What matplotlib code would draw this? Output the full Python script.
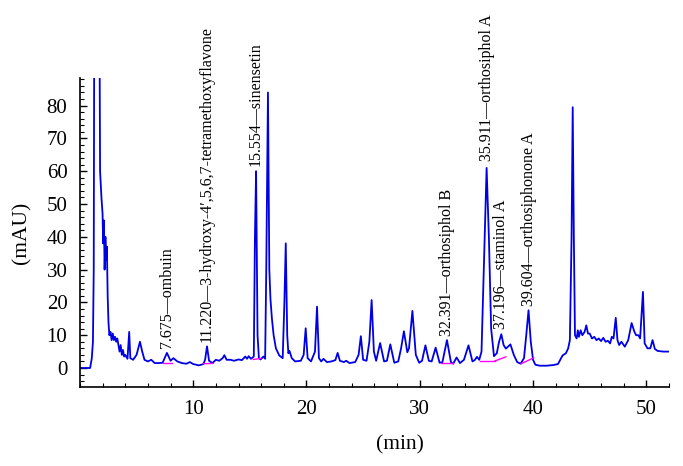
import matplotlib
matplotlib.use("Agg")
import matplotlib.pyplot as plt
from matplotlib.ticker import MultipleLocator

# ---- chromatogram trace: time (min), signal (mAU) ----
time_min = [
    0.0, 0.9, 1.05, 1.15, 1.22, 1.28, 1.70, 1.78, 1.9, 2.0, 2.05, 2.12, 2.18, 2.25,
    2.32, 2.38, 2.45, 2.52, 2.6, 2.7, 2.8, 2.9, 3.0, 3.1, 3.2, 3.3, 3.4, 3.5, 3.6,
    3.7, 3.8, 3.9, 4.0, 4.2, 4.35, 4.45, 4.7, 5.0, 5.3, 5.5, 5.7, 6.0, 6.3, 6.6,
    7.0, 7.3, 7.68, 8.0, 8.25, 8.6, 9.0, 9.4, 9.7, 10.0, 10.5, 10.9, 11.05, 11.22,
    11.4, 11.7, 12.0, 12.3, 12.6, 12.75, 12.95, 13.3, 13.6, 14.0, 14.3, 14.6,
    14.75, 14.9, 15.1, 15.35, 15.45, 15.55, 15.68, 15.8, 15.95, 16.2, 16.35, 16.45,
    16.6, 16.72, 16.82, 16.95, 17.1, 17.3, 17.6, 17.9, 18.05, 18.17, 18.3, 18.4,
    18.5, 18.7, 19.0, 19.5, 19.75, 19.93, 20.1, 20.4, 20.75, 20.93, 21.1, 21.3,
    21.5, 21.8, 22.2, 22.55, 22.75, 22.95, 23.3, 23.5, 23.8, 24.3, 24.6, 24.8,
    25.0, 25.3, 25.55, 25.75, 25.95, 26.15, 26.5, 26.85, 27.1, 27.4, 27.75, 28.1,
    28.35, 28.6, 28.9, 29.05, 29.35, 29.65, 29.95, 30.2, 30.5, 30.8, 31.05, 31.4,
    31.75, 32.0, 32.4, 32.75, 32.95, 33.25, 33.55, 33.9, 34.3, 34.65, 34.85, 35.05,
    35.25, 35.45, 35.65, 35.9, 36.1, 36.3, 36.55, 36.8, 37.0, 37.2, 37.4, 37.6,
    38.0, 38.3, 38.6, 38.9, 39.2, 39.4, 39.6, 39.8, 40.0, 40.2, 40.6, 41.2, 41.8,
    42.2, 42.4, 42.6, 42.9, 43.1, 43.25, 43.4, 43.5, 43.6, 43.7, 43.85, 43.95,
    44.05, 44.2, 44.35, 44.55, 44.7, 44.85, 45.0, 45.2, 45.4, 45.6, 45.8, 46.0,
    46.2, 46.4, 46.6, 46.8, 46.95, 47.1, 47.3, 47.45, 47.6, 47.8, 48.1, 48.4,
    48.7, 48.95, 49.1, 49.3, 49.45, 49.7, 49.85, 50.1, 50.35, 50.55, 50.75, 51.0,
    51.5, 52.0,
]
signal_mau = [
    0.0, 0.0, 3.0, 8.0, 30, 130, 130, 60, 52, 47, 38, 45, 30, 40,
    33, 37, 22, 14, 10, 11, 8.5, 10.5, 8.5, 9.5, 8, 9, 7, 5, 7,
    4, 5.5, 3.5, 4, 2.8, 11, 3, 2.5, 4, 8, 5, 2.5, 2.0, 2.5, 1.5,
    1.5, 1.6, 4.6, 2.2, 3.0, 2.0, 1.5, 1.3, 1.8, 1.2, 0.8, 1.2, 2.5, 6.6,
    2.2, 1.5, 2.5, 2.2, 3.0, 3.9, 2.5, 2.5, 2.2, 2.6, 2.4, 3.5,
    2.8, 3.6, 2.8, 3.5, 40, 60, 10, 3, 2.6, 3.5, 2.8, 30,
    84, 30, 21, 15, 10, 6, 3.8, 3.0, 20, 38, 10, 4.5,
    5.2, 3, 2.0, 2.2, 4, 12.1, 3, 2.0, 5, 18.7, 3, 2.0,
    2.8, 1.8, 2.0, 2.4, 4.6, 2.2, 1.8, 2.2, 1.5, 1.8, 4, 9.7,
    2.5, 2.2, 8, 20.7, 5, 2.2, 7.6, 2.0, 2.2, 7.2, 1.6, 2.0,
    6, 11.2, 4.8, 6, 17.4, 4, 1.6, 2.2, 6.9, 2.2, 2.0, 6.2,
    1.6, 1.8, 8.5, 1.8, 1.3, 3.2, 1.5, 2.5, 6.9, 2.0, 2.4, 3.4,
    2.5, 5, 30, 61, 40, 12, 3.6, 4.5, 8, 10.3, 7, 5.9,
    7.2, 4, 1.8, 1.3, 3, 10, 17.6, 8, 2.5, 1.0, 0.7, 0.7, 0.9,
    1.2, 2.5, 3.8, 4.5, 6, 8.5, 40, 79.5, 40, 10, 9, 11.5,
    9.5, 11.5, 10, 11, 13, 10.5, 10.5, 9, 9.5, 8.5, 9, 8.2,
    9.2, 8, 8.3, 7.5, 9.5, 9, 15.3, 8.5, 7, 8, 6.5, 8.5,
    13.7, 11, 10, 10, 9, 23.2, 7.5, 6, 6, 8.5, 5.8, 5.2,
    5.0, 5.0,
]

# integration baselines (magenta): start time, start value, end time, end value
base_t0 = [7.35, 10.9, 15.3, 31.9, 35.3, 36.6, 38.95]
base_y0 = [1.5, 1.3, 2.6, 1.4, 2.1, 2.1, 1.3]
base_t1 = [8.1, 11.75, 15.95, 32.95, 36.6, 37.6, 40.05]
base_y1 = [1.5, 1.4, 2.9, 1.4, 2.1, 3.4, 3.1]

# peak labels
label_t = [7.675, 11.220, 15.554, 32.391, 35.911, 37.196, 39.604]
label_y = [6.0, 7.8, 61.5, 9.8, 63.0, 12.0, 19.0]
label_text = [
    "7.675\u2014ombuin",
    "11.220\u20143-hydroxy-4\u2032,5,6,7-tetramethoxyflavone",
    "15.554\u2014sinensetin",
    "32.391\u2014orthosiphol B",
    "35.911\u2014orthosiphol A",
    "37.196\u2014staminol A",
    "39.604\u2014orthosiphonone A",
]

serif = ["Liberation Serif", "DejaVu Serif"]
plt.rcParams["font.family"] = serif

fig = plt.figure(figsize=(6.83, 4.66), dpi=100)
ax = fig.add_axes([0.117, 0.1695, 0.8625, 0.663])

ax.plot(time_min, signal_mau, color="#0000e6", lw=1.3)
for a, b, c, d in zip(base_t0, base_y0, base_t1, base_y1):
    ax.plot([a, c], [b, d], color="#ff00ff", lw=1.0)

for t, y, s in zip(label_t, label_y, label_text):
    ax.text(t, y, s, rotation=90, ha="center", va="bottom", fontsize=11.5,
            clip_on=False)

ax.set_xlim(0, 52)
ax.set_ylim(-5.8, 88.4)
ax.xaxis.set_major_locator(MultipleLocator(10))
ax.xaxis.set_minor_locator(MultipleLocator(2))
ax.yaxis.set_major_locator(MultipleLocator(10))
ax.yaxis.set_minor_locator(MultipleLocator(2))
ax.set_xticks([10, 20, 30, 40, 50])
ax.set_yticks([0, 10, 20, 30, 40, 50, 60, 70, 80])

ax.spines["top"].set_visible(False)
ax.spines["right"].set_visible(False)
ax.spines["left"].set_linewidth(1.2)
ax.spines["bottom"].set_linewidth(1.2)
ax.tick_params(which="major", direction="in", length=5, width=1, labelsize=15, pad=9)
ax.tick_params(which="minor", direction="in", length=3, width=0.8)

ax.set_xlabel("(min)", fontsize=15.5)
ax.set_ylabel("(mAU)", fontsize=15.5)
ax.xaxis.set_label_coords((400 - 80) / 589, -0.155)
ax.yaxis.set_label_coords(-0.083, 0.5)

fig.savefig("out.png", dpi=100)
